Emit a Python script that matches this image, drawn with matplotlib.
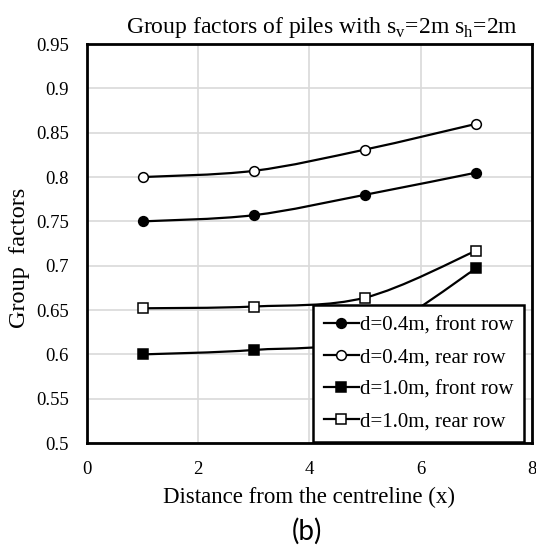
import numpy as np
import matplotlib.pyplot as plt
from matplotlib.path import Path
from matplotlib.patches import PathPatch
from matplotlib.lines import Line2D

plt.rcParams['font.family'] = 'Liberation Serif'
plt.rcParams['mathtext.fontset'] = 'custom'
plt.rcParams['mathtext.rm'] = 'Liberation Serif'

x = [1, 3, 5, 7]
front_04 = [0.750, 0.757, 0.780, 0.805]
rear_04 = [0.800, 0.807, 0.831, 0.860]
front_10 = [0.600, 0.605, 0.619, 0.697]
rear_10 = [0.652, 0.654, 0.664, 0.717]

labels = ['d=0.4m, front row', 'd=0.4m, rear row',
          'd=1.0m, front row', 'd=1.0m, rear row']
series = [front_04, rear_04, front_10, rear_10]
markers = ['o', 'o', 's', 's']
faces = ['black', 'white', 'black', 'white']


def smooth_path(xs, ys):
    # Catmull-Rom style bezier, like Excel's smoothed line
    p = np.column_stack([xs, ys]).astype(float)
    verts = [p[0]]
    codes = [Path.MOVETO]
    n = len(p)
    for i in range(n - 1):
        p0 = p[max(i - 1, 0)]
        p1 = p[i]
        p2 = p[i + 1]
        p3 = p[min(i + 2, n - 1)]
        c1 = p1 + (p2 - p0) / 6
        c2 = p2 - (p3 - p1) / 6
        verts += [c1, c2, p2]
        codes += [Path.CURVE4] * 3
    return Path(verts, codes)


fig = plt.figure(figsize=(5.36, 5.47), dpi=100)
ax = fig.add_axes([0.1623, 0.190, 0.830, 0.7295])

handles = []
for ys, m, fc, lab in zip(series, markers, faces, labels):
    ms = 7 if m == 'o' else 6.5
    ax.add_patch(PathPatch(smooth_path(x, ys), fill=False, lw=1.6,
                           edgecolor='black', zorder=3))
    ax.plot(x, ys, linestyle='none', marker=m, markersize=ms,
            markerfacecolor=fc, markeredgecolor='black', markeredgewidth=1.1, zorder=4)
    handles.append(Line2D([], [], color='black', lw=1.6, marker=m,
                          markersize=ms, markerfacecolor=fc,
                          markeredgecolor='black', markeredgewidth=1.1))

ax.set_xlim(0, 8)
ax.set_ylim(0.5, 0.95)
ax.set_xticks([0, 2, 4, 6, 8])
ax.set_yticks(np.arange(0.5, 0.951, 0.05))
ax.set_yticklabels(['0.5', '0.55', '0.6', '0.65', '0.7', '0.75', '0.8', '0.85', '0.9', '0.95'])
ax.grid(True, color='#d9d9d9', lw=1.2)
ax.set_axisbelow(True)
for s in ax.spines.values():
    s.set_linewidth(2)
    s.set_color('black')
ax.tick_params(length=0, labelsize=13.5, pad=13)

ax.set_xlabel('Distance from the centreline (x)', fontsize=16.5, labelpad=6)
ax.set_ylabel('Group  factors', fontsize=17.5)
ax.yaxis.set_label_coords(-0.128, 0.465)
ax.set_title(r'Group factors of piles with s$_\mathregular{v}$=2m s$_\mathregular{h}$=2m',
             fontsize=17, pad=8, x=0.527)

leg = ax.legend(handles, labels, loc='lower right', bbox_to_anchor=(0.985, 0.0),
                fontsize=15, frameon=True, fancybox=False, edgecolor='black',
                handlelength=1.7, handletextpad=0.05, labelspacing=0.6,
                borderpad=0.5, borderaxespad=0.05)
leg.get_frame().set_linewidth(1.8)
leg.get_frame().set_alpha(1)

fig.text(0.573, 0.029, '(b)', fontsize=20, ha='center', va='center', family='Lato')

fig.savefig('out.png', dpi=100)
